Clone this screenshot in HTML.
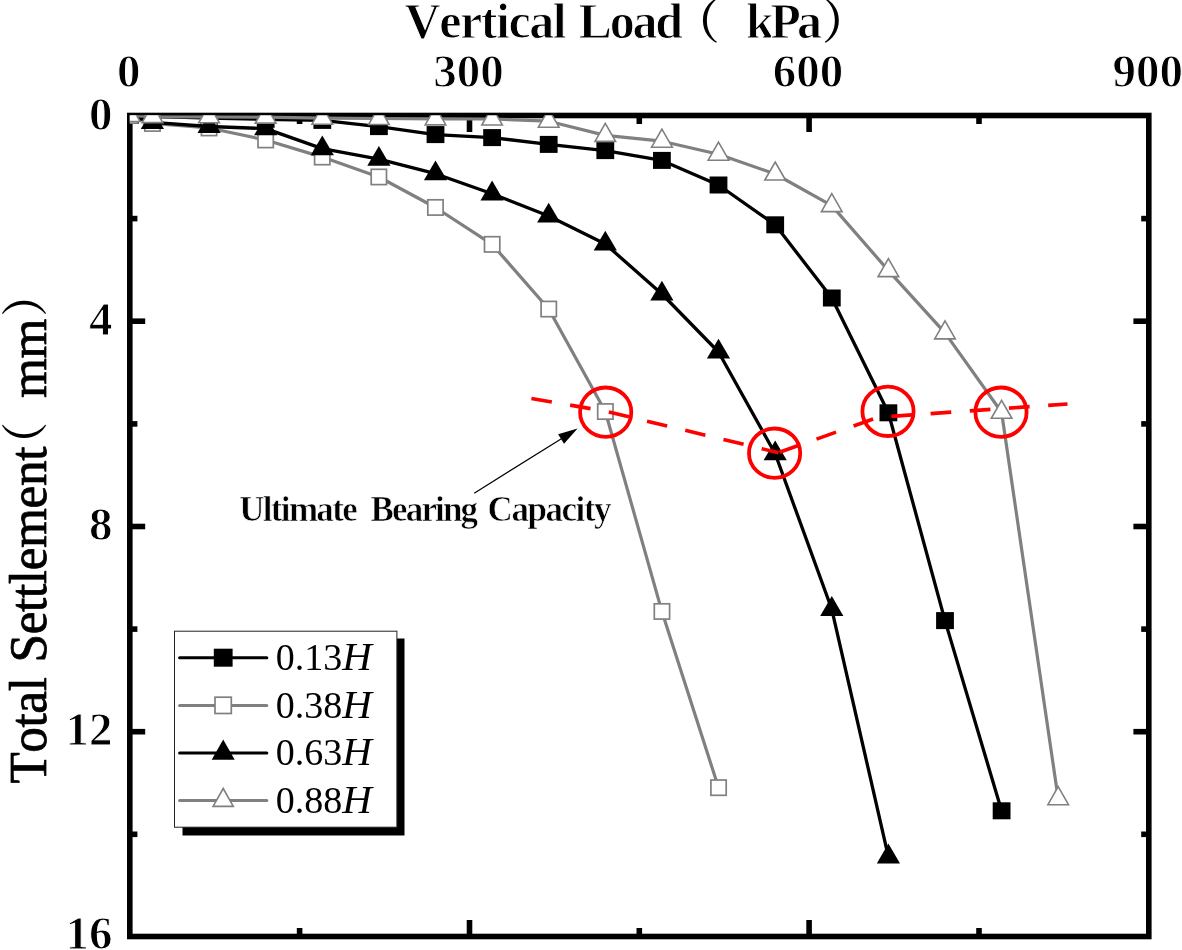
<!DOCTYPE html>
<html lang="en">
<head>
<meta charset="utf-8">
<title>Vertical Load vs Total Settlement</title>
<style>
html,body{margin:0;padding:0;background:#fff;}
body{width:1182px;height:950px;overflow:hidden;}
svg{display:block;}
text{font-family:"Liberation Serif","Noto Serif CJK SC",serif;fill:#000;font-kerning:none;}
.b{font-weight:bold;}
.tick{font-weight:bold;font-size:47px;stroke:#fff;stroke-width:1.0px;}
.cjk{font-family:"Noto Serif CJK SC","Liberation Serif",serif;font-weight:600;stroke:none;}
</style>
</head>
<body>
<svg width="1182" height="950" viewBox="0 0 1182 950">
<rect x="0" y="0" width="1182" height="950" fill="#fff"/>
<defs>
<clipPath id="plot"><rect x="129.8" y="115.2" width="1019.0" height="821.0"/></clipPath>
</defs>

<g stroke="#000" stroke-width="5.6" fill="none" stroke-linecap="butt">
<rect x="129.8" y="115.5" width="1019.0" height="821.0"/>
<line x1="299.6" y1="115.5" x2="299.6" y2="124.0"/>
<line x1="299.6" y1="936.5" x2="299.6" y2="928.0"/>
<line x1="469.5" y1="115.5" x2="469.5" y2="132.0"/>
<line x1="469.5" y1="936.5" x2="469.5" y2="920.0"/>
<line x1="639.3" y1="115.5" x2="639.3" y2="124.0"/>
<line x1="639.3" y1="936.5" x2="639.3" y2="928.0"/>
<line x1="809.1" y1="115.5" x2="809.1" y2="132.0"/>
<line x1="809.1" y1="936.5" x2="809.1" y2="920.0"/>
<line x1="979.0" y1="115.5" x2="979.0" y2="124.0"/>
<line x1="979.0" y1="936.5" x2="979.0" y2="928.0"/>
<line x1="129.8" y1="218.6" x2="137.4" y2="218.6"/>
<line x1="1148.8" y1="218.6" x2="1141.2" y2="218.6"/>
<line x1="129.8" y1="321.2" x2="145.2" y2="321.2"/>
<line x1="1148.8" y1="321.2" x2="1133.4" y2="321.2"/>
<line x1="129.8" y1="423.9" x2="137.4" y2="423.9"/>
<line x1="1148.8" y1="423.9" x2="1141.2" y2="423.9"/>
<line x1="129.8" y1="526.5" x2="145.2" y2="526.5"/>
<line x1="1148.8" y1="526.5" x2="1133.4" y2="526.5"/>
<line x1="129.8" y1="629.1" x2="137.4" y2="629.1"/>
<line x1="1148.8" y1="629.1" x2="1141.2" y2="629.1"/>
<line x1="129.8" y1="731.7" x2="145.2" y2="731.7"/>
<line x1="1148.8" y1="731.7" x2="1133.4" y2="731.7"/>
<line x1="129.8" y1="834.3" x2="137.4" y2="834.3"/>
<line x1="1148.8" y1="834.3" x2="1141.2" y2="834.3"/>
</g>
<g clip-path="url(#plot)">
<polyline fill="none" stroke="#000" stroke-width="3.30" stroke-linejoin="round" points="129.8,115.5 152.4,116.3 209.1,118.0 265.7,119.3 322.3,120.4 378.9,126.6 435.5,134.6 492.1,137.6 548.7,144.4 605.3,150.6 661.9,160.4 718.5,185.0 775.2,224.8 831.8,298.0 888.4,412.8 945.0,620.6 1001.6,810.8"/>
<rect x="120.9" y="107.0" width="17.8" height="17.0" fill="#000"/>
<rect x="143.5" y="107.8" width="17.8" height="17.0" fill="#000"/>
<rect x="200.2" y="109.5" width="17.8" height="17.0" fill="#000"/>
<rect x="256.8" y="110.8" width="17.8" height="17.0" fill="#000"/>
<rect x="313.4" y="111.9" width="17.8" height="17.0" fill="#000"/>
<rect x="370.0" y="118.1" width="17.8" height="17.0" fill="#000"/>
<rect x="426.6" y="126.1" width="17.8" height="17.0" fill="#000"/>
<rect x="483.2" y="129.1" width="17.8" height="17.0" fill="#000"/>
<rect x="539.8" y="135.9" width="17.8" height="17.0" fill="#000"/>
<rect x="596.4" y="142.1" width="17.8" height="17.0" fill="#000"/>
<rect x="653.0" y="151.9" width="17.8" height="17.0" fill="#000"/>
<rect x="709.6" y="176.5" width="17.8" height="17.0" fill="#000"/>
<rect x="766.3" y="216.3" width="17.8" height="17.0" fill="#000"/>
<rect x="822.9" y="289.5" width="17.8" height="17.0" fill="#000"/>
<rect x="879.5" y="404.3" width="17.8" height="17.0" fill="#000"/>
<rect x="936.1" y="612.1" width="17.8" height="17.0" fill="#000"/>
<rect x="992.7" y="802.3" width="17.8" height="17.0" fill="#000"/>
<polyline fill="none" stroke="#808080" stroke-width="3.20" stroke-linejoin="round" points="129.8,115.5 152.4,123.5 209.1,128.0 265.7,140.0 322.3,157.1 378.9,177.0 435.5,207.5 492.1,244.3 548.7,309.0 605.3,411.5 661.9,611.4 718.5,787.6"/>
<rect x="122.2" y="107.8" width="15.3" height="15.3" fill="#fff" stroke="#808080" stroke-width="1.7"/>
<rect x="144.8" y="115.8" width="15.3" height="15.3" fill="#fff" stroke="#808080" stroke-width="1.7"/>
<rect x="201.4" y="120.3" width="15.3" height="15.3" fill="#fff" stroke="#808080" stroke-width="1.7"/>
<rect x="258.0" y="132.3" width="15.3" height="15.3" fill="#fff" stroke="#808080" stroke-width="1.7"/>
<rect x="314.6" y="149.4" width="15.3" height="15.3" fill="#fff" stroke="#808080" stroke-width="1.7"/>
<rect x="371.2" y="169.3" width="15.3" height="15.3" fill="#fff" stroke="#808080" stroke-width="1.7"/>
<rect x="427.8" y="199.8" width="15.3" height="15.3" fill="#fff" stroke="#808080" stroke-width="1.7"/>
<rect x="484.5" y="236.7" width="15.3" height="15.3" fill="#fff" stroke="#808080" stroke-width="1.7"/>
<rect x="541.1" y="301.4" width="15.3" height="15.3" fill="#fff" stroke="#808080" stroke-width="1.7"/>
<rect x="597.7" y="403.9" width="15.3" height="15.3" fill="#fff" stroke="#808080" stroke-width="1.7"/>
<rect x="654.3" y="603.8" width="15.3" height="15.3" fill="#fff" stroke="#808080" stroke-width="1.7"/>
<rect x="710.9" y="780.0" width="15.3" height="15.3" fill="#fff" stroke="#808080" stroke-width="1.7"/>
<polyline fill="none" stroke="#000" stroke-width="3.30" stroke-linejoin="round" points="129.8,115.5 152.4,122.3 209.1,126.5 265.7,128.6 322.3,148.6 378.9,159.1 435.5,173.7 492.1,193.8 548.7,216.0 605.3,244.0 661.9,294.0 718.5,352.0 775.2,453.7 831.8,609.3 888.4,856.8"/>
<polygon points="129.8,102.3 141.4,122.1 118.2,122.1" fill="#000"/>
<polygon points="152.4,109.1 164.0,128.9 140.8,128.9" fill="#000"/>
<polygon points="209.1,113.3 220.7,133.1 197.5,133.1" fill="#000"/>
<polygon points="265.7,115.4 277.3,135.2 254.1,135.2" fill="#000"/>
<polygon points="322.3,135.4 333.9,155.2 310.7,155.2" fill="#000"/>
<polygon points="378.9,145.9 390.5,165.7 367.3,165.7" fill="#000"/>
<polygon points="435.5,160.5 447.1,180.3 423.9,180.3" fill="#000"/>
<polygon points="492.1,180.6 503.7,200.4 480.5,200.4" fill="#000"/>
<polygon points="548.7,202.8 560.3,222.6 537.1,222.6" fill="#000"/>
<polygon points="605.3,230.8 616.9,250.6 593.7,250.6" fill="#000"/>
<polygon points="661.9,280.8 673.5,300.6 650.3,300.6" fill="#000"/>
<polygon points="718.5,338.8 730.1,358.6 706.9,358.6" fill="#000"/>
<polygon points="775.2,440.5 786.8,460.3 763.6,460.3" fill="#000"/>
<polygon points="831.8,596.1 843.4,615.9 820.2,615.9" fill="#000"/>
<polygon points="888.4,843.6 900.0,863.4 876.8,863.4" fill="#000"/>
<polyline fill="none" stroke="#808080" stroke-width="3.20" stroke-linejoin="round" points="129.8,115.5 152.4,116.6 209.1,116.8 265.7,117.1 322.3,118.2 378.9,118.5 435.5,118.9 492.1,119.0 548.7,121.2 605.3,135.4 661.9,141.2 718.5,154.2 775.2,174.0 831.8,205.6 888.4,270.6 945.0,332.9 1001.6,412.3 1058.2,798.7"/>
<polygon points="129.8,103.5 140.1,121.5 119.5,121.5" fill="#fff" stroke="#808080" stroke-width="1.6" stroke-linejoin="miter"/>
<polygon points="152.4,104.6 162.8,122.6 142.1,122.6" fill="#fff" stroke="#808080" stroke-width="1.6" stroke-linejoin="miter"/>
<polygon points="209.1,104.8 219.4,122.8 198.7,122.8" fill="#fff" stroke="#808080" stroke-width="1.6" stroke-linejoin="miter"/>
<polygon points="265.7,105.1 276.0,123.1 255.3,123.1" fill="#fff" stroke="#808080" stroke-width="1.6" stroke-linejoin="miter"/>
<polygon points="322.3,106.2 332.6,124.2 312.0,124.2" fill="#fff" stroke="#808080" stroke-width="1.6" stroke-linejoin="miter"/>
<polygon points="378.9,106.5 389.2,124.5 368.6,124.5" fill="#fff" stroke="#808080" stroke-width="1.6" stroke-linejoin="miter"/>
<polygon points="435.5,106.9 445.8,124.9 425.2,124.9" fill="#fff" stroke="#808080" stroke-width="1.6" stroke-linejoin="miter"/>
<polygon points="492.1,107.0 502.4,125.0 481.8,125.0" fill="#fff" stroke="#808080" stroke-width="1.6" stroke-linejoin="miter"/>
<polygon points="548.7,109.2 559.0,127.2 538.4,127.2" fill="#fff" stroke="#808080" stroke-width="1.6" stroke-linejoin="miter"/>
<polygon points="605.3,123.4 615.6,141.4 595.0,141.4" fill="#fff" stroke="#808080" stroke-width="1.6" stroke-linejoin="miter"/>
<polygon points="661.9,129.2 672.3,147.2 651.6,147.2" fill="#fff" stroke="#808080" stroke-width="1.6" stroke-linejoin="miter"/>
<polygon points="718.5,142.2 728.9,160.2 708.2,160.2" fill="#fff" stroke="#808080" stroke-width="1.6" stroke-linejoin="miter"/>
<polygon points="775.2,162.0 785.5,180.0 764.8,180.0" fill="#fff" stroke="#808080" stroke-width="1.6" stroke-linejoin="miter"/>
<polygon points="831.8,193.6 842.1,211.6 821.4,211.6" fill="#fff" stroke="#808080" stroke-width="1.6" stroke-linejoin="miter"/>
<polygon points="888.4,258.6 898.7,276.6 878.1,276.6" fill="#fff" stroke="#808080" stroke-width="1.6" stroke-linejoin="miter"/>
<polygon points="945.0,320.9 955.3,338.9 934.7,338.9" fill="#fff" stroke="#808080" stroke-width="1.6" stroke-linejoin="miter"/>
<polygon points="1001.6,400.3 1011.9,418.3 991.3,418.3" fill="#fff" stroke="#808080" stroke-width="1.6" stroke-linejoin="miter"/>
<polygon points="1058.2,786.7 1068.5,804.7 1047.9,804.7" fill="#fff" stroke="#808080" stroke-width="1.6" stroke-linejoin="miter"/>
</g>
<g fill="none" stroke="#ff0000" stroke-width="3.8">
<ellipse cx="605.7" cy="412.2" rx="25.6" ry="24.7"/>
<ellipse cx="774.6" cy="453.2" rx="25.6" ry="24.7"/>
<ellipse cx="888.0" cy="411.3" rx="25.6" ry="24.7"/>
<ellipse cx="1001.0" cy="412.2" rx="25.6" ry="24.7"/>
<polyline points="531.4,398.5 606,411.3 778.5,452.7" stroke-width="3.6" stroke-dasharray="20.7 18.6"/>
<polyline points="779.5,452.2 878,417.3 1067.5,404" stroke-width="3.6" stroke-dasharray="20.7 18.6"/>
</g>
<line x1="474.2" y1="493.2" x2="563" y2="437.7" stroke="#000" stroke-width="1.2"/>
<polygon points="577.6,428.6 558.1,434.2 564,443.8" fill="#000"/>
<text class="b" y="520.8" font-size="35" stroke="#fff" stroke-width="0.6"><tspan x="239.2" textLength="118.5" lengthAdjust="spacing">Ultimate</tspan> <tspan x="370.6" textLength="107.5" lengthAdjust="spacing">Bearing</tspan> <tspan x="487.6" textLength="124" lengthAdjust="spacing">Capacity</tspan></text>
<text class="tick" x="128.8" y="87.2" text-anchor="middle">0</text>
<text class="tick" x="468.5" y="87.2" text-anchor="middle">300</text>
<text class="tick" x="808.1" y="87.2" text-anchor="middle">600</text>
<text class="tick" x="1147.8" y="87.2" text-anchor="middle">900</text>
<text class="tick" x="112.4" y="129.7" text-anchor="end">0</text>
<text class="tick" x="112.4" y="334.9" text-anchor="end">4</text>
<text class="tick" x="112.4" y="540.2" text-anchor="end">8</text>
<text class="tick" x="112.4" y="745.4" text-anchor="end">12</text>
<text class="tick" x="112.4" y="948.7" text-anchor="end">16</text>
<text class="b" font-size="50" transform="translate(0,38.3)" stroke="#fff" stroke-width="1.0"><tspan x="404.6" y="0" textLength="162" lengthAdjust="spacing">Vertical</tspan> <tspan x="578.5" y="0" textLength="104.5" lengthAdjust="spacing">Load</tspan><tspan x="672.3" y="0" class="cjk" font-size="47.5">（</tspan> <tspan x="746.0" y="0" textLength="76" lengthAdjust="spacing">kPa</tspan><tspan x="822.0" y="0" class="cjk" font-size="47.5">）</tspan></text>
<text font-size="51.3" transform="translate(46.2,0) rotate(-90) scale(1,1.04)" stroke="#000" stroke-width="0.75" stroke-linejoin="round"><tspan x="-783.6" y="0" textLength="106.5" lengthAdjust="spacing">Total</tspan> <tspan x="-662.5" y="0" textLength="216" lengthAdjust="spacing">Settlement</tspan><tspan x="-467.1" y="-4.4" class="cjk" font-size="45">（</tspan> <tspan x="-398.0" y="0" textLength="79.5" lengthAdjust="spacing">mm</tspan><tspan x="-316.8" y="-4.4" class="cjk" font-size="45">）</tspan></text>
<rect x="182.5" y="638.5" width="222" height="197" fill="#000"/>
<rect x="174.5" y="631.2" width="222.4" height="196" fill="#fff" stroke="#222" stroke-width="1"/>
<line x1="179.6" y1="657.7" x2="266.8" y2="657.7" stroke="#000" stroke-width="3" stroke-linecap="round"/>
<rect x="213.8" y="648.7" width="18.8" height="18.0" fill="#000"/>
<text x="275.8" y="669.9" font-size="38">0.13<tspan font-style="italic" font-size="41">H</tspan></text>
<line x1="179.6" y1="705.4" x2="266.8" y2="705.4" stroke="#808080" stroke-width="3" stroke-linecap="round"/>
<rect x="215.0" y="697.2" width="16.3" height="16.3" fill="#fff" stroke="#808080" stroke-width="1.7"/>
<text x="275.8" y="717.6" font-size="38">0.38<tspan font-style="italic" font-size="41">H</tspan></text>
<line x1="179.6" y1="752.9" x2="266.8" y2="752.9" stroke="#000" stroke-width="3" stroke-linecap="round"/>
<polygon points="223.2,739.4 234.7,759.7 211.7,759.7" fill="#000"/>
<text x="275.8" y="765.3" font-size="38">0.63<tspan font-style="italic" font-size="41">H</tspan></text>
<line x1="179.6" y1="800.4" x2="266.8" y2="800.4" stroke="#808080" stroke-width="3" stroke-linecap="round"/>
<polygon points="223.2,788.5 233.3,806.4 213.1,806.4" fill="#fff" stroke="#808080" stroke-width="1.6" stroke-linejoin="miter"/>
<text x="275.8" y="813.0" font-size="38">0.88<tspan font-style="italic" font-size="41">H</tspan></text>
</svg>
</body>
</html>
